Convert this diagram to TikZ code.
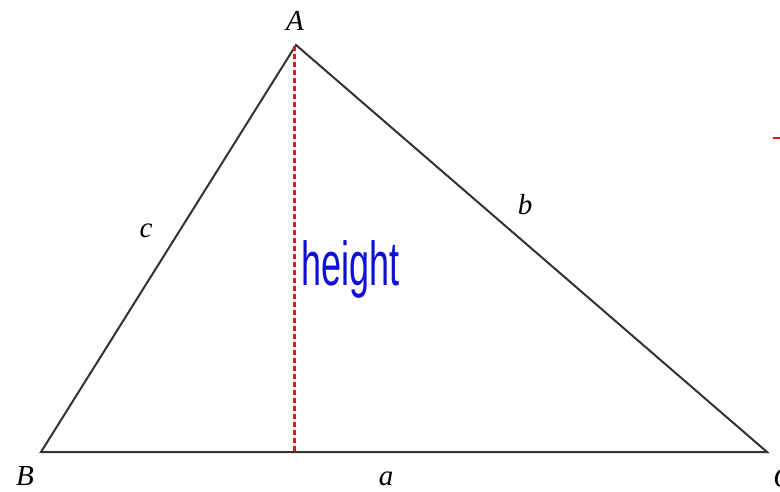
\documentclass[tikz,border=0pt]{standalone}
\usepackage{fontspec}
\newfontfamily\handfont{Liberation Sans}
\newfontfamily\labelfont{Liberation Serif}
\definecolor{edgegray}{RGB}{50,50,50}
\definecolor{htred}{RGB}{225,25,25}
\definecolor{htblue}{RGB}{15,15,215}
\tikzset{
  edge/.style={draw=edgegray, line width=2pt, line join=miter},
  heightline/.style={draw=htred, line width=3pt, dash pattern=on 5pt off 3pt},
  vlabel/.style={font=\labelfont\itshape\fontsize{29}{32}\selectfont, inner sep=0pt},
}
\begin{document}
\begin{tikzpicture}[x=1pt,y=-1pt]
\useasboundingbox (0,0) rectangle (780,492);
\fill[white] (0,0) rectangle (780,492);
\coordinate (A) at (296,45);
\coordinate (B) at (41,452);
\coordinate (C) at (767,452);
\coordinate (F) at (294,453);
\coordinate (Atop) at (294,46);
\draw[edge] (A) -- (B) -- (C) -- cycle;
\draw[heightline] (Atop) -- (F);
\node[vlabel] (lA) at (295,21) {A};
\node[vlabel] (lB) at (25,476) {B};
\node[vlabel] (lC) at (783,478) {C};
\node[vlabel] (la) at (386,479) {a};
\node[vlabel] (lb) at (525,205) {b};
\node[vlabel] (lc) at (146,231) {c};
\node[inner sep=0pt, anchor=base west, text=htblue] (h) at (301,286)
  {\scalebox{0.9}[1.55]{\handfont\fontsize{40}{40}\selectfont height}};
\coordinate (m1) at (773,138);
\coordinate (m2) at (781,138);
\draw[draw=htred, line width=2.4pt] (m1) -- (m2);
\end{tikzpicture}
\end{document}
